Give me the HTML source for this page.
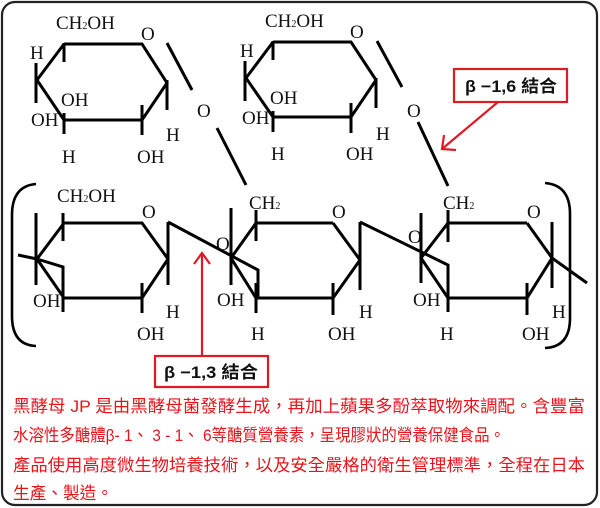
<!DOCTYPE html>
<html><head><meta charset="utf-8"><style>
html,body{margin:0;padding:0;background:#fff;}
svg{display:block;}
.s{stroke:#000;stroke-width:3;fill:none;stroke-linecap:butt;}
.l{font-family:"Liberation Serif","Noto Serif CJK SC",serif;font-size:19px;fill:#111;}
.sub{font-size:10px;}
.rb{font-family:"Liberation Sans","Noto Sans CJK TC",sans-serif;font-weight:bold;font-size:17px;fill:#111;}
.rt{font-family:"Liberation Sans","Noto Sans CJK TC",sans-serif;font-size:17px;fill:#e8141c;}
</style></head><body>
<svg width="600" height="508" viewBox="0 0 600 508" xmlns="http://www.w3.org/2000/svg">
<rect x="2" y="2" width="595" height="503" rx="13" fill="#fff" stroke="#222" stroke-width="2.2"/>

<g class="s">
<polyline points="64,44 142,44 167,83 142,120 64,120 37,80 64,44"/>
<line x1="64" y1="43" x2="64" y2="62"/>
<line x1="36" y1="63" x2="36" y2="103"/>
<line x1="64" y1="113" x2="64" y2="134"/>
<line x1="142" y1="105" x2="142" y2="135"/>
<line x1="167" y1="80" x2="167" y2="110"/>
<line x1="167" y1="43" x2="192" y2="90"/>
<line x1="217" y1="128" x2="246" y2="185"/>
</g>
<g class="s">
<polyline points="273,42 351,42 376,80 351,117 273,117 246,78 273,42"/>
<line x1="273" y1="41" x2="273" y2="60"/>
<line x1="245" y1="61" x2="245" y2="101"/>
<line x1="273" y1="111" x2="273" y2="132"/>
<line x1="351" y1="103" x2="351" y2="133"/>
<line x1="376" y1="78" x2="376" y2="108"/>
<line x1="377" y1="41" x2="402" y2="87"/>
<line x1="418" y1="122" x2="448" y2="186"/>
</g>

<g class="s">
<polyline points="64,223 142,223 168,259 142,298 64,298 37,259 64,223"/>
<line x1="36" y1="213" x2="36" y2="285"/>
<line x1="18" y1="255" x2="37" y2="259"/>
<polyline points="37,259 63,267 63,312"/>
<line x1="63" y1="213" x2="63" y2="241"/>
<line x1="168" y1="222" x2="168" y2="285"/>
<line x1="142" y1="283" x2="142" y2="313"/>
<polyline points="168,222 258,270 258,298"/>
<polyline points="333,223 256,223 231,258 256,298 333,298 360,260 333,223"/>
<line x1="231" y1="208" x2="231" y2="285"/>
<line x1="256" y1="210" x2="256" y2="241"/>
<line x1="256" y1="283" x2="256" y2="313"/>
<line x1="333" y1="283" x2="333" y2="315"/>
<line x1="360" y1="222" x2="360" y2="290"/>
<polyline points="360,222 448,265 448,298"/>
<polyline points="527,223 448,223 421,258 448,298 527,298 552,258 527,223"/>
<line x1="421" y1="213" x2="421" y2="283"/>
<line x1="448" y1="210" x2="448" y2="242"/>
<line x1="448" y1="283" x2="448" y2="312"/>
<line x1="527" y1="283" x2="527" y2="315"/>
<line x1="552" y1="222" x2="552" y2="288"/>
<line x1="552" y1="258" x2="587" y2="283"/>
<path d="M36,184 Q12,186 12,215 L12,316 Q12,345 36,346" stroke-width="2.6"/>
<path d="M545,183 Q570,185 570,214 L570,318 Q570,347 545,348" stroke-width="2.6"/>
</g>

<g class="l">
<text x="56" y="29">CH<tspan class="sub">2</tspan>OH</text>
<text x="141" y="40">O</text>
<text x="30" y="59">H</text>
<text x="61" y="106">OH</text>
<text x="31" y="126">OH</text>
<text x="166" y="141">H</text>
<text x="62" y="163">H</text>
<text x="137" y="163">OH</text>
<text x="197" y="117">O</text>

<text x="265" y="27">CH<tspan class="sub">2</tspan>OH</text>
<text x="350" y="38">O</text>
<text x="240" y="57">H</text>
<text x="270" y="104">OH</text>
<text x="242" y="124">OH</text>
<text x="376" y="140">H</text>
<text x="271" y="160">H</text>
<text x="346" y="160">OH</text>
<text x="407" y="117">O</text>

<text x="57" y="202">CH<tspan class="sub">2</tspan>OH</text>
<text x="142" y="218">O</text>
<text x="33" y="307">OH</text>
<text x="166" y="318">H</text>
<text x="137" y="340">OH</text>
<text x="216" y="250">O</text>

<text x="249" y="209">CH<tspan class="sub">2</tspan></text>
<text x="332" y="218">O</text>
<text x="217" y="306">OH</text>
<text x="251" y="340">H</text>
<text x="328" y="340">OH</text>
<text x="359" y="318">H</text>
<text x="408" y="243">O</text>

<text x="443" y="209">CH<tspan class="sub">2</tspan></text>
<text x="527" y="218">O</text>
<text x="413" y="306">OH</text>
<text x="440" y="340">H</text>
<text x="522" y="340">OH</text>
<text x="552" y="318">H</text>
</g>

<g stroke="#e01a22" stroke-width="2.2" fill="none">
<line x1="202" y1="253" x2="202" y2="356"/>
<polyline points="194,264 202,253 210,264"/>
<rect x="155" y="356" width="113" height="31" fill="#fff"/>
<line x1="498" y1="102" x2="442" y2="149"/>
<polyline points="444,135 442,149 456,150"/>
<rect x="454" y="69" width="113" height="33" fill="#fff"/>
</g>
<text class="rb" x="164" y="378" textLength="94" lengthAdjust="spacingAndGlyphs">β −1,3 結合</text>
<text class="rb" x="465" y="92" textLength="92" lengthAdjust="spacingAndGlyphs">β −1,6 結合</text>

<text class="rt" x="13" y="412" textLength="572" lengthAdjust="spacingAndGlyphs">黑酵母 JP 是由黑酵母菌發酵生成，再加上蘋果多酚萃取物來調配。含豐富</text>
<text class="rt" x="13" y="441" textLength="492" lengthAdjust="spacingAndGlyphs">水溶性多醣體β- 1、 3 - 1、 6等醣質營養素，呈現膠狀的營養保健食品。</text>
<text class="rt" x="13" y="471" textLength="572" lengthAdjust="spacingAndGlyphs">產品使用高度微生物培養技術，以及安全嚴格的衛生管理標準，全程在日本</text>
<text class="rt" x="13" y="499" textLength="100" lengthAdjust="spacingAndGlyphs">生產、製造。</text>
</svg>
</body></html>
